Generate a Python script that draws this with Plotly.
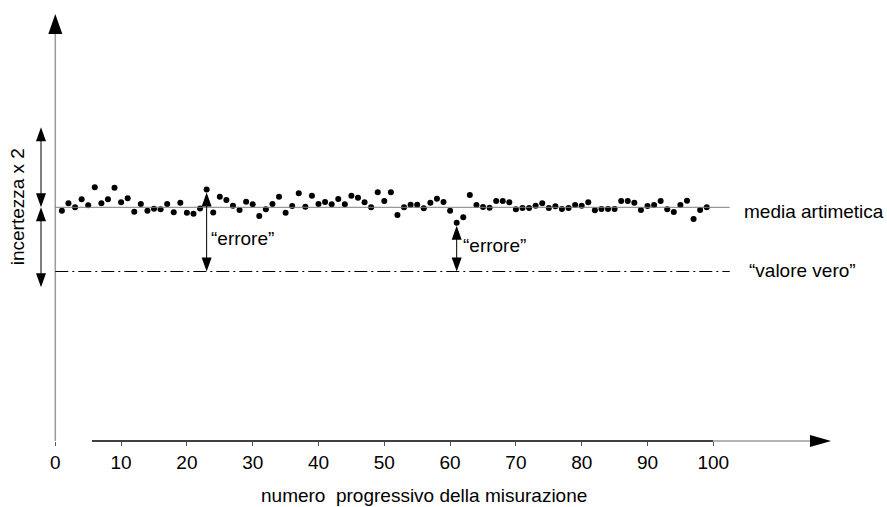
import plotly.graph_objects as go

# --- data -------------------------------------------------------------
measure_index = list(range(1, 100))
measure_value = [
    23.03, 23.77, 23.37, 24.17, 23.57, 25.37, 23.77, 24.17, 25.33, 23.87,
    24.27, 22.93, 23.70, 23.03, 23.23, 23.17, 23.70, 22.87, 23.83, 22.83,
    22.73, 23.25, 25.15, 22.85, 24.43, 24.10, 23.53, 23.10, 23.93, 23.67,
    22.50, 23.17, 23.70, 24.43, 22.83, 23.50, 24.77, 23.43, 24.53, 23.70,
    23.90, 23.67, 24.20, 23.67, 24.53, 24.33, 23.87, 23.37, 24.87, 24.00,
    24.87, 22.60, 23.37, 23.63, 23.63, 23.27, 23.83, 24.23, 23.90, 23.03,
    21.83, 22.37, 24.60, 23.60, 23.40, 23.33, 24.00, 24.00, 23.87, 23.17,
    23.30, 23.30, 23.53, 23.77, 23.30, 23.47, 23.20, 23.30, 23.60, 23.53,
    23.87, 23.07, 23.20, 23.20, 23.20, 24.00, 24.00, 23.83, 23.10, 23.50,
    23.60, 24.00, 23.17, 22.90, 23.60, 24.03, 22.20, 23.10, 23.37,
]
mean_value = 23.37          # "media artimetica"
true_value = 16.95          # "valore vero"
uncertainty = 8.0           # half of "incertezza x 2"
error_at = [23, 61]         # measurements whose error is marked
x_ticks = [0, 10, 20, 30, 40, 50, 60, 70, 80, 90, 100]

# --- geometry helpers (1 x unit = 6.58 px, 1 y unit = 10 px) ----------
PX_X = 6.58
PX_Y = 10.0
W, H = 887, 507
X0 = -55.3 / PX_X
Y_AXIS_PX = 441
Y0 = -(H - Y_AXIS_PX) / PX_Y
FONT = "Liberation Sans, Arial, sans-serif"


def tri(x, y_tip, up, w_px=10, h_px=14, color="black"):
    hw = w_px / 2 / PX_X
    h = h_px / PX_Y
    yb = y_tip - h if up else y_tip + h
    return dict(type="path", path=f"M {x-hw},{yb} L {x+hw},{yb} L {x},{y_tip} Z",
                fillcolor=color, line=dict(width=0), xref="x", yref="y", layer="above")


def seg(x0, y0, x1, y1, color="black", width=1, dash="solid"):
    return dict(type="line", x0=x0, y0=y0, x1=x1, y1=y1, xref="x", yref="y",
                line=dict(color=color, width=width, dash=dash), layer="above")


fig = go.Figure()
fig.add_trace(go.Scatter(x=measure_index, y=measure_value, mode="markers",
                         marker=dict(color="black", size=6), hoverinfo="skip",
                         showlegend=False, cliponaxis=False))

shapes = []
grey = "#9b9b9b"
line_end = 102.5

# vertical axis with arrow
shapes.append(seg(0, 0, 0, 40.7, color=grey, width=1.5))
shapes.append(tri(0, 42.7, True, w_px=14, h_px=20))
# horizontal axis with arrow
shapes.append(seg(5.58, 0, 100, 0, color="black", width=1.5))
shapes.append(seg(100, 0, 114.7, 0, color=grey, width=1.5))
shapes.append(dict(type="path", path="M 114.7,0.6 L 114.7,-0.6 L 117.9,0 Z",
                   fillcolor="black", line=dict(width=0), xref="x", yref="y",
                   layer="above"))

# mean and true value lines
shapes.append(seg(0, mean_value, line_end, mean_value, color="#7f7f7f", width=1))
shapes.append(seg(0, true_value, line_end, true_value, color="black", width=1,
                  dash="13px,4px,2px,4px"))

# "errore" arrows
for i in error_at:
    v = measure_value[i - 1]
    top = v - 0.3
    shapes.append(seg(i, top - 1.3, i, true_value + 1.3))
    shapes.append(tri(i, top, True))
    shapes.append(tri(i, true_value, False))

# "incertezza x 2" arrows
xa = -14.3 / PX_X
shapes.append(seg(xa, mean_value + uncertainty - 1.3, xa, mean_value + 1.3))
shapes.append(tri(xa, mean_value + uncertainty, True))
shapes.append(tri(xa, mean_value, False))
shapes.append(seg(xa, mean_value - 1.3, xa, mean_value - uncertainty + 1.3))
shapes.append(tri(xa, mean_value, True))
shapes.append(tri(xa, mean_value - uncertainty, False))

annotations = [
    dict(x=104.3, y=mean_value - 0.4, text="media artimetica", xanchor="left"),
    dict(x=105.1, y=true_value + 0.1, text="\u201cvalore vero\u201d", xanchor="left"),
    dict(x=23.4, y=20.3, text="\u201cerrore\u201d", xanchor="left"),
    dict(x=61.7, y=19.6, text="\u201cerrore\u201d", xanchor="left"),
    dict(x=-38.0 / PX_X, y=23.4, text="incertezza x 2", textangle=-90,
         xanchor="center"),
    dict(x=56.0, y=-5.4, text="numero\u00a0 progressivo della misurazione",
         xanchor="center"),
]
for a in annotations:
    a.update(xref="x", yref="y", showarrow=False, yanchor="middle",
             font=dict(family=FONT, size=19, color="black"))

fig.update_layout(
    width=W, height=H,
    margin=dict(l=0, r=0, t=0, b=0),
    paper_bgcolor="white", plot_bgcolor="white",
    showlegend=False,
    shapes=shapes,
    annotations=annotations,
    xaxis=dict(range=[X0, X0 + W / PX_X], tickvals=x_ticks,
               ticktext=[str(t) for t in x_ticks],
               ticks="outside", ticklen=4, tickcolor="#555555", tickwidth=1,
               showline=False, showgrid=False, zeroline=False,
               anchor="free", position=(H - Y_AXIS_PX) / H,
               tickfont=dict(family=FONT, size=19, color="black")),
    yaxis=dict(range=[Y0, Y0 + H / PX_Y], visible=False,
               showgrid=False, zeroline=False),
)

fig.write_html("out.html")
